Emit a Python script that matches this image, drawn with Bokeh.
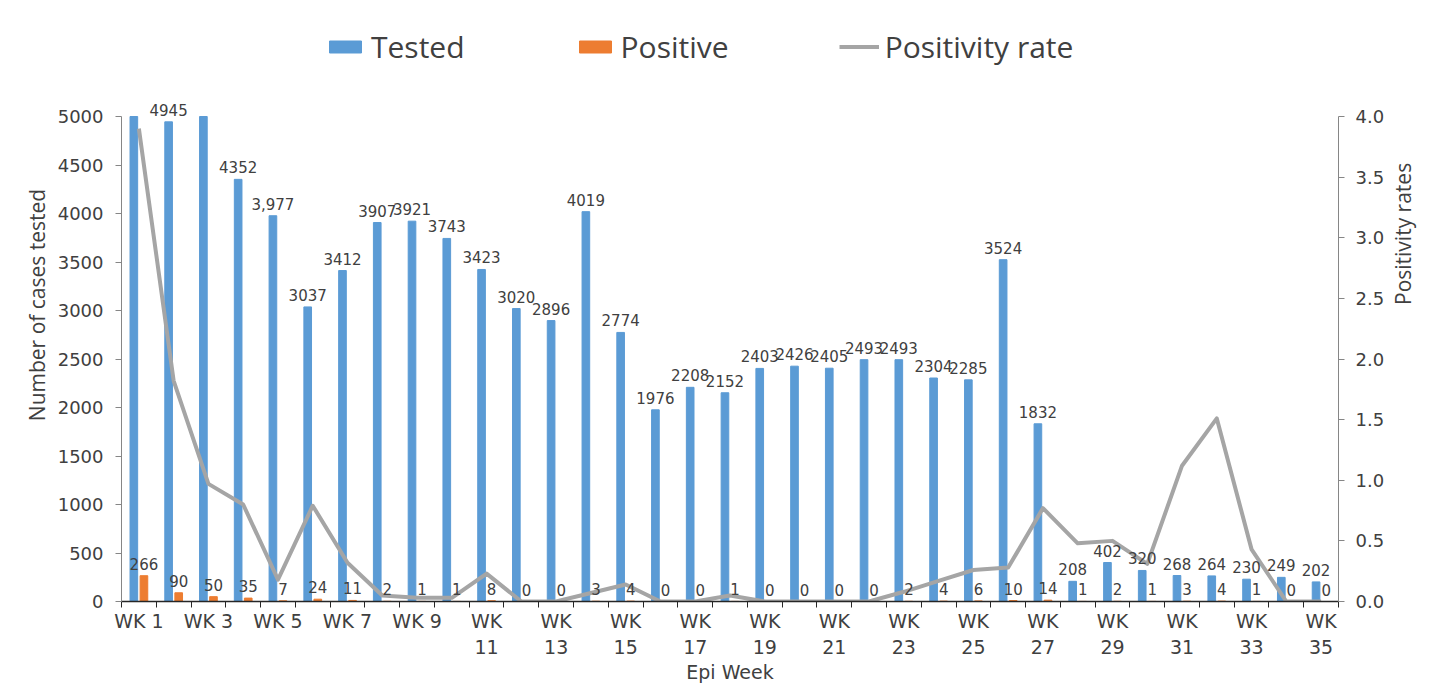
import math
from bokeh.plotting import figure
from bokeh.models import (ColumnDataSource, Range1d, LinearAxis, FixedTicker,
                          Legend, LegendItem, LabelSet, NumeralTickFormatter)
from bokeh.core.properties import value
from bokeh.embed import file_html
from bokeh.resources import INLINE

# ---------------- data ----------------
weeks = list(range(1, 36))
week_tick_labels = {1: "WK 1", 3: "WK 3", 5: "WK 5", 7: "WK 7", 9: "WK 9",
                    11: "WK\n11", 13: "WK\n13", 15: "WK\n15", 17: "WK\n17",
                    19: "WK\n19", 21: "WK\n21", 23: "WK\n23", 25: "WK\n25",
                    27: "WK\n27", 29: "WK\n29", 31: "WK\n31", 33: "WK\n33",
                    35: "WK\n35"}
tested = [6820, 4945, 5150, 4352, 3977, 3037, 3412, 3907, 3921, 3743, 3423, 3020,
          2896, 4019, 2774, 1976, 2208, 2152, 2403, 2426, 2405, 2493, 2493, 2304,
          2285, 3524, 1832, 208, 402, 320, 268, 264, 230, 249, 202]
positive = [266, 90, 50, 35, 7, 24, 11, 2, 1, 1, 8, 0, 0, 3, 4, 0, 0, 1, 0, 0,
            0, 0, 2, 4, 6, 10, 14, 1, 2, 1, 3, 4, 1, 0, 0]
positivity_rate = [3.90, 1.82, 0.97, 0.80, 0.18, 0.79, 0.32, 0.05, 0.03, 0.03,
                   0.23, 0.0, 0.0, 0.07, 0.14, 0.0, 0.0, 0.05, 0.0, 0.0, 0.0,
                   0.0, 0.08, 0.17, 0.26, 0.28, 0.77, 0.48, 0.50, 0.31, 1.12,
                   1.51, 0.43, 0.0, 0.0]

Y_MAX = 5000
RATE_MAX = 4.0

BLUE = "#5B9BD5"
ORANGE = "#ED7D31"
GREY = "#A5A5A5"
TXT = "#404040"
NUM_FONT = "DejaVu Sans"
TITLE_FONT = "Open Sans"

# layout (pixels)
W, H = 1439, 685
TOP, BOTTOM, LEFT, RIGHT = 8, 84, 121, 101
AXIS_TOP_PX = 116                      # where 5000 / 4.0 sit
frame_h = H - TOP - BOTTOM
axis_h = (H - BOTTOM) - AXIS_TOP_PX
scale = frame_h / axis_h               # extra headroom for the legend

OFF = 0.145
BW = 0.22

src = ColumnDataSource(dict(
    week=weeks,
    xt=[w - OFF for w in weeks],
    xp=[w + OFF for w in weeks],
    tested_shown=[min(v, Y_MAX) for v in tested],   # bars cut at the axis maximum
    positive=positive,
    rate=positivity_rate,
))

lab_t = [(w - OFF, v, (f"{v:,}" if i == 4 else str(v)))
         for i, (w, v) in enumerate(zip(weeks, tested)) if v <= Y_MAX]
src_tl = ColumnDataSource(dict(x=[a[0] for a in lab_t], y=[a[1] for a in lab_t],
                               t=[a[2] for a in lab_t]))
src_pl = ColumnDataSource(dict(x=[w + OFF for w in weeks], y=positive,
                               t=[str(v) for v in positive]))

p = figure(width=W, height=H, output_backend="svg", toolbar_location=None,
           x_range=Range1d(0.5, 35.5), y_range=Range1d(0, Y_MAX * scale),
           min_border_left=LEFT, min_border_right=RIGHT, min_border_top=TOP,
           min_border_bottom=BOTTOM, title_location=None)
p.extra_y_ranges = {"rate": Range1d(0, RATE_MAX * scale)}
p.outline_line_color = None
p.grid.visible = False
p.background_fill_color = "white"
p.border_fill_color = "white"

r_t = p.vbar(x="xt", top="tested_shown", width=BW, source=src, color=BLUE)
r_p = p.vbar(x="xp", top="positive", width=BW, source=src, color=ORANGE)
r_l = p.line(x="week", y="rate", source=src, y_range_name="rate",
             line_color=GREY, line_width=4, line_join="round")

for s in (src_tl, src_pl):
    p.add_layout(LabelSet(x="x", y="y", text="t", source=s, y_offset=6,
                          text_align="center", text_baseline="bottom",
                          text_font=value(NUM_FONT), text_font_size="15px",
                          text_color=TXT))

# x axis
xa = p.xaxis[0]
xa.ticker = FixedTicker(ticks=[w for w in weeks if w % 2 == 1],
                        minor_ticks=[w - 0.5 for w in weeks] + [35.5])
xa.major_label_overrides = week_tick_labels
xa.major_tick_line_color = None
xa.minor_tick_line_color = "#262626"
xa.minor_tick_out = 6
xa.minor_tick_in = 0
xa.axis_line_color = "#262626"
xa.axis_line_width = 1.5
xa.major_label_text_font = NUM_FONT
xa.major_label_text_font_size = "19px"
xa.major_label_text_color = TXT
xa.major_label_standoff = 2
xa.axis_label = "Epi Week"
xa.axis_label_text_font = NUM_FONT
xa.axis_label_text_font_size = "19px"
xa.axis_label_text_font_style = "normal"
xa.axis_label_text_color = TXT
xa.axis_label_standoff = 0

# left axis
ya = p.yaxis[0]
ya.ticker = FixedTicker(ticks=list(range(0, 5001, 500)))
ya.bounds = (0, Y_MAX)
ya.axis_line_color = "#868686"
ya.major_tick_line_color = "#868686"
ya.major_tick_out = 6
ya.major_tick_in = 0
ya.minor_tick_line_color = None
ya.major_label_text_font = NUM_FONT
ya.major_label_text_font_size = "18px"
ya.major_label_text_color = TXT
ya.major_label_standoff = 12
ya.axis_label = "Number of cases tested"
ya.axis_label_text_font = TITLE_FONT
ya.axis_label_text_font_size = "21px"
ya.axis_label_text_font_style = "normal"
ya.axis_label_text_color = TXT
ya.axis_label_standoff = 4

# right axis
ra = LinearAxis(y_range_name="rate", ticker=FixedTicker(ticks=[i * 0.5 for i in range(9)]),
                formatter=NumeralTickFormatter(format="0.0"), bounds=(0, RATE_MAX))
ra.axis_line_color = "#868686"
ra.major_tick_line_color = "#868686"
ra.major_tick_out = 6
ra.major_tick_in = 0
ra.minor_tick_line_color = None
ra.major_label_text_font = NUM_FONT
ra.major_label_text_font_size = "18px"
ra.major_label_text_color = TXT
ra.major_label_standoff = 11
ra.axis_label = "Positivity rates"
ra.axis_label_orientation = math.pi / 2
ra.axis_label_text_font = TITLE_FONT
ra.axis_label_text_font_size = "21px"
ra.axis_label_text_font_style = "normal"
ra.axis_label_text_color = TXT
ra.axis_label_standoff = 16
p.add_layout(ra, "right")

legend = Legend(items=[LegendItem(label="Tested", renderers=[r_t]),
                       LegendItem(label="Positive", renderers=[r_p]),
                       LegendItem(label="Positivity rate", renderers=[r_l])],
                orientation="horizontal", location=(204, 534),
                glyph_width=40, glyph_height=15, label_standoff=6, spacing=110,
                padding=0, margin=0, border_line_color=None,
                background_fill_alpha=0,
                label_text_font=TITLE_FONT, label_text_font_size="30px",
                label_text_color=TXT)
p.add_layout(legend)

open("out.html", "w").write(file_html(p, INLINE))
